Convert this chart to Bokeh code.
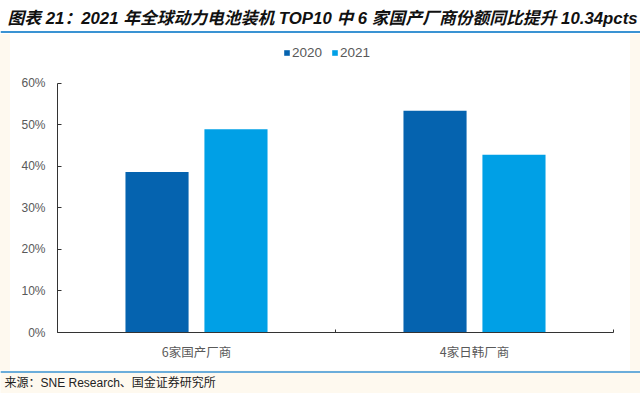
from bokeh.plotting import figure
from bokeh.models import (ColumnDataSource, Range1d, FixedTicker, NumeralTickFormatter,
                          Legend, LegendItem, Span, Spacer)
from bokeh.layouts import column, row
from bokeh.transform import dodge
from bokeh.core.properties import value
from bokeh.embed import file_html
from bokeh.resources import INLINE

# ---- data ----
categories = ["6家国产厂商", "4家日韩厂商"]
share_2020 = [0.386, 0.534]
share_2021 = [0.489, 0.428]
y_ticks = [0.0, 0.1, 0.2, 0.3, 0.4, 0.5, 0.6]
title_text = "图表 21：2021 年全球动力电池装机 TOP10 中 6 家国产厂商份额同比提升 10.34pcts"
source_text = "来源：SNE Research、国金证券研究所"

C2020 = "#0563AF"
C2021 = "#00A0E6"
LINE_BLUE = "#3A93D3"
CREAM = "#FEF9EF"
LATIN = "Liberation Sans, Noto Sans CJK SC"
CJK = "Noto Sans CJK SC"
W = 640


def bare_figure(w, h, bg):
    f = figure(width=w, height=h, x_range=Range1d(0, w), y_range=Range1d(h, 0),
               x_axis_location=None, y_axis_location=None,
               output_backend="svg", toolbar_location=None,
               min_border=0, min_border_left=0, min_border_right=0,
               min_border_top=0, min_border_bottom=0)
    f.grid.visible = False
    f.outline_line_color = None
    f.background_fill_color = bg
    f.border_fill_color = bg
    return f


# ---- title figure ----
pt = bare_figure(W, 34, "white")
pt.text(x=[7], y=[18], text=[title_text], text_font=value(LATIN), text_font_size="16.8px",
        text_font_style="bold italic", text_color="#111111", text_baseline="middle", text_align="left")
pt.add_layout(Span(location=31.5, dimension="width", line_color=LINE_BLUE, line_width=2))

# ---- main chart ----
n = len(categories)
src = ColumnDataSource(dict(
    x=[i + 0.5 for i in range(n)],
    cat=categories,
    s2020=share_2020,
    s2021=share_2021,
))

p = figure(width=620, height=336, x_range=Range1d(0, n), y_range=Range1d(0, 0.7028),
           output_backend="svg", toolbar_location=None,
           min_border_left=47, min_border_right=17, min_border_top=6, min_border_bottom=38)
p.background_fill_color = "white"
p.border_fill_color = "white"
p.outline_line_color = None
p.grid.visible = False

bw = 0.227
r1 = p.vbar(x=dodge("x", -0.142, range=p.x_range), top="s2020", width=bw, source=src,
            fill_color=C2020, line_color=None)
r2 = p.vbar(x=dodge("x", 0.142, range=p.x_range), top="s2021", width=bw, source=src,
            fill_color=C2021, line_color=None)

# y axis
ya = p.yaxis[0]
ya.ticker = FixedTicker(ticks=y_ticks, minor_ticks=[])
ya.formatter = NumeralTickFormatter(format="0%")
ya.bounds = (y_ticks[0], y_ticks[-1])
ya.major_tick_in = 4
ya.major_tick_out = 0
ya.minor_tick_line_color = None
ya.axis_line_color = "#333333"
ya.major_tick_line_color = "#333333"
ya.major_label_standoff = 12
ya.major_label_text_font = LATIN
ya.major_label_text_font_size = "12px"
ya.major_label_text_color = "#595959"

# x axis
xa = p.xaxis[0]
xa.ticker = FixedTicker(ticks=[i + 0.5 for i in range(n)], minor_ticks=list(range(n + 1)))
xa.major_label_overrides = {i + 0.5: c for i, c in enumerate(categories)}
xa.major_tick_line_color = None
xa.major_tick_in = 0
xa.major_tick_out = 0
xa.minor_tick_in = 3
xa.minor_tick_out = 0
xa.minor_tick_line_color = "#333333"
xa.axis_line_color = "#333333"
xa.major_label_standoff = 9
xa.major_label_text_font = CJK
xa.major_label_text_font_size = "12.5px"
xa.major_label_text_color = "#595959"

legend = Legend(items=[LegendItem(label="2020", renderers=[r1]),
                       LegendItem(label="2021", renderers=[r2])],
                orientation="horizontal", location=(226, 272),
                glyph_width=7, glyph_height=7, label_standoff=2, spacing=9,
                padding=0, margin=0, label_height=14,
                label_text_font=LATIN, label_text_font_size="13.5px",
                label_text_color="#595959",
                border_line_color=None, background_fill_alpha=0)
p.add_layout(legend)

main_row = row(Spacer(width=10, height=336, styles={"background-color": CREAM}),
               p,
               Spacer(width=10, height=336, styles={"background-color": CREAM}),
               spacing=0)

# ---- source figure ----
ps = bare_figure(W, 23, CREAM)
ps.add_layout(Span(location=1.5, dimension="width", line_color=LINE_BLUE, line_width=1.5))
ps.text(x=[4], y=[12], text=[source_text], text_font=value(LATIN), text_font_size="12px",
        text_color="#222222", text_baseline="middle", text_align="left")

layout = column(pt, main_row, ps, spacing=0)
open("out.html", "w").write(file_html(layout, INLINE))
